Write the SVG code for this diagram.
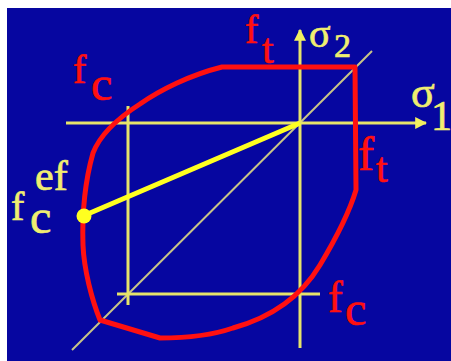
<svg xmlns="http://www.w3.org/2000/svg" width="451" height="361" viewBox="0 0 451 361">
<defs>
<style>
.ax{stroke:#e6e46a;stroke-width:3;fill:none}
.dg{stroke:#c8c488;stroke-width:2;fill:none}
.rt{fill:#ff1010;stroke:#ff1010;stroke-width:0.7;font-family:"Liberation Serif",serif}
.yt{fill:#f0ee70;stroke:#f0ee70;stroke-width:0.7;font-family:"Liberation Serif",serif}
</style>
<marker id="ah" viewBox="0 0 10 10" refX="9" refY="5" markerWidth="4" markerHeight="4" orient="auto" markerUnits="strokeWidth">
<path d="M0,0 L10,5 L0,10 z" fill="#f2f060"/>
</marker>
</defs>
<rect x="0" y="0" width="451" height="361" fill="#ffffff"/>
<rect x="7" y="8" width="444" height="353" fill="#0606a0"/>
<g id="connectors">
<line class="dg" x1="72" y1="350" x2="372" y2="51"/>
<line class="ax" x1="66" y1="123" x2="426" y2="123" marker-end="url(#ah)"/>
<line class="ax" x1="300" y1="348" x2="300" y2="30" marker-end="url(#ah)"/>
<line class="ax" x1="128" y1="106" x2="128" y2="305"/>
<line class="ax" x1="117" y1="294" x2="320" y2="294"/>
</g>
<g id="envelope">
<path d="M222,67 L355,67 L356,190 C350,210 335,240 320,265 C305,290 280,315 233,328 C210,336 185,338 160,338 L100,320 C92,300 84,270 83,245 C82,215 84,185 93,153 C100,135 115,120 140,104 C160,90 190,75 222,67 Z" fill="none" stroke="#ff1010" stroke-width="5" stroke-linejoin="round"/>
</g>
<g id="fcef-line">
<line x1="83" y1="216" x2="300" y2="123" stroke="#ffff20" stroke-width="5"/>
<circle cx="84" cy="216" r="7.5" fill="#ffff20"/>
</g>
<g id="label-fc-top">
<text class="rt" x="73" y="83" font-size="40">f</text>
<text class="rt" x="91" y="100" font-size="48">c</text>
</g>
<g id="label-ft-top">
<text class="rt" x="245" y="43" font-size="40">f</text>
<text class="rt" x="262" y="63" font-size="42">t</text>
</g>
<g id="label-ft-right">
<text class="rt" x="358" y="170" font-size="48">f</text>
<text class="rt" x="376" y="182" font-size="42">t</text>
</g>
<g id="label-fc-bottom">
<text class="rt" x="328" y="312" font-size="44">f</text>
<text class="rt" x="345" y="325" font-size="48">c</text>
</g>
<g id="label-fcef">
<text class="yt" x="11" y="220" font-size="40">f</text>
<text class="yt" x="30" y="233" font-size="48">c</text>
<text class="yt" x="35" y="190" font-size="42">ef</text>
</g>
<g id="label-s2">
<text class="yt" x="309" y="47" font-size="40">σ</text>
<text class="yt" x="334" y="57" font-size="34">2</text>
</g>
<g id="label-s1">
<text class="yt" x="411" y="107" font-size="44">σ</text>
<text class="yt" x="431" y="130" font-size="42">1</text>
</g>
</svg>
